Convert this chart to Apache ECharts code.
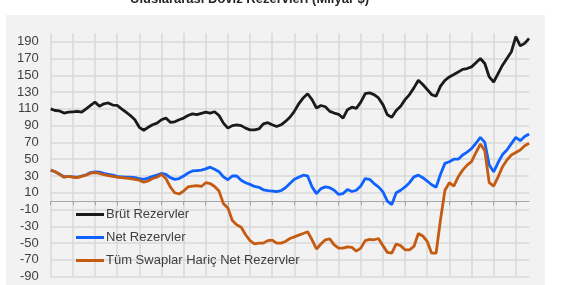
<!DOCTYPE html>
<html>
<head>
<meta charset="utf-8">
<script src="https://cdn.jsdelivr.net/npm/echarts@6/dist/echarts.min.js"></script>
<style>
html,body{margin:0;padding:0;background:#fff;}
#chart{width:570px;height:285px;}
</style>
</head>
<body>
<div id="chart"></div>
<script>
// ---- data (weekly observations, billion USD) ----
const titleText = 'Uluslararası Döviz Rezervleri (Milyar $)';
const seriesNames = ['Brüt Rezervler', 'Net Rezervler', 'Tüm Swaplar Hariç Net Rezervler'];

const brut = [
  110,108,107.5,105,106,106.5,107,106,110,114,
  118,113,116,117,114.5,114,110,106,102,97,
  88,84.5,88,91,93,97,99,94,94.5,97,
  99,102,104,103,104.5,106,105,106.5,102,93,
  87,90,91,90,87,85,85,86,92,93.5,
  91,89,91,95,100,107,116,123,128,121,
  111,114,112.5,107,105,103.5,99,109,112,110.5,
  118,128,129,127,123,115,103,100,108,113,
  121,127,135,144,139,133,127,125,137,144,
  148,151,154,157,158,160,165,170,164,148,
  142,152,162,170,178,196,185,188,194
];

const net = [
  37,35,32,29,29.5,29,28.5,30,31.5,34,
  35,34.5,33,32,31,29.5,29,28.5,28.5,28,
  27,26,27.5,29.5,31,33,32,28,26,27,
  30,33.5,36,36.5,37,38.5,40.5,38,35,29,
  25.5,30,30,25,22,20,17.5,16.5,13.5,12.5,
  12,11.5,12.5,16,21,26,28.5,31,30,17,
  9,15,17,16,13,8,9,14,11.5,13,
  18,27,26,21,17,11,0,-4,10,13,
  17,22,29,31,28,24,19.5,16.5,32,45,
  47,50,50,55,58.5,62.5,69,76,70,43,
  35,46,55.5,61,68.5,76,72,77,80
];

const swapHaric = [
  37,35,32,28.5,29.5,28.5,28,29.5,31,33.5,
  34,33,31.5,30.5,29.5,28.5,28,27.5,27,26,
  25,22.5,24,27,28.5,32,27,17,10,8.5,
  12,17,18,18.5,17.5,22,21,17.5,12,-3,
  -8,-23,-28,-31,-40,-47,-51,-50,-50,-47,
  -46.5,-50,-50,-48,-44.5,-42.5,-40.5,-38.5,-36.5,-46,
  -57,-51,-46,-45,-52,-56,-56,-54.5,-55,-59.5,
  -56,-47,-45.5,-46,-44.5,-53,-61,-62,-51,-53,
  -58,-58,-54,-38.5,-41.5,-48,-62,-62,-22,13,
  22,18,29,37,43,47,58,68,60,22,
  18,29,41,49,55,58,61,66,69
];

const categories = brut.map((_, i) => 'W' + (i + 1));

const yMin = -90, yMax = 200, yStep = 20;
const colors = ['#1a1a1a', '#0f62fe', '#c55a11'];

// ---- chart ----
const chart = echarts.init(document.getElementById('chart'), null, {renderer: 'canvas'});
const font = 'Liberation Sans';
chart.setOption({
  animation: false,
  backgroundColor: '#ffffff',
  graphic: [{
    type: 'rect', z: -100, silent: true,
    shape: {x: 6, y: 15, width: 539, height: 280},
    style: {fill: '#f2f2f2'}
  }],
  title: {
    text: titleText,
    left: 125, top: -12,
    textStyle: {fontFamily: font, fontSize: 13, fontWeight: 'bold', color: '#262626'}
  },
  grid: {left: 50.7, right: 40.9, top: 33.3, bottom: 8.3, containLabel: false},
  legend: {
    orient: 'vertical', left: 71, top: 203,
    icon: 'rect', itemWidth: 28, itemHeight: 3, itemGap: 10,
    data: seriesNames,
    formatter: n => '{t|' + n + '}',
    textStyle: {fontFamily: font, fontSize: 13, color: '#404040',
      rich: {t: {fontFamily: font, fontSize: 13, color: '#404040', padding: [0, 0, 0, -3]}}}
  },
  xAxis: {
    type: 'category', data: categories, boundaryGap: false,
    axisLine: {onZero: true, lineStyle: {color: '#a6a6a6', width: 1}},
    axisTick: {show: true, interval: 4, length: 4, inside: false, lineStyle: {color: '#a6a6a6'}},
    axisLabel: {show: false},
    splitLine: {show: true, interval: 4, lineStyle: {color: '#d9d9d9', width: 1.5}}
  },
  yAxis: {
    type: 'value', min: yMin, max: yMax, interval: yStep,
    axisLine: {show: false}, axisTick: {show: false},
    axisLabel: {
      fontFamily: font, fontSize: 13, color: '#404040', margin: 12,
      showMaxLabel: false,
      formatter: v => (v > 195 ? '' : String(v))
    },
    splitLine: {show: true, showMaxLine: false, lineStyle: {color: '#d9d9d9', width: 1.5}}
  },
  series: [
    {name: seriesNames[0], type: 'line', data: brut, showSymbol: false, symbol: 'none',
     lineStyle: {color: colors[0], width: 2.8}, itemStyle: {color: colors[0]}, z: 3},
    {name: seriesNames[1], type: 'line', data: net, showSymbol: false, symbol: 'none',
     lineStyle: {color: colors[1], width: 2.8}, itemStyle: {color: colors[1]}, z: 4},
    {name: seriesNames[2], type: 'line', data: swapHaric, showSymbol: false, symbol: 'none',
     lineStyle: {color: colors[2], width: 2.8}, itemStyle: {color: colors[2]}, z: 5}
  ]
});
</script>
</body>
</html>
